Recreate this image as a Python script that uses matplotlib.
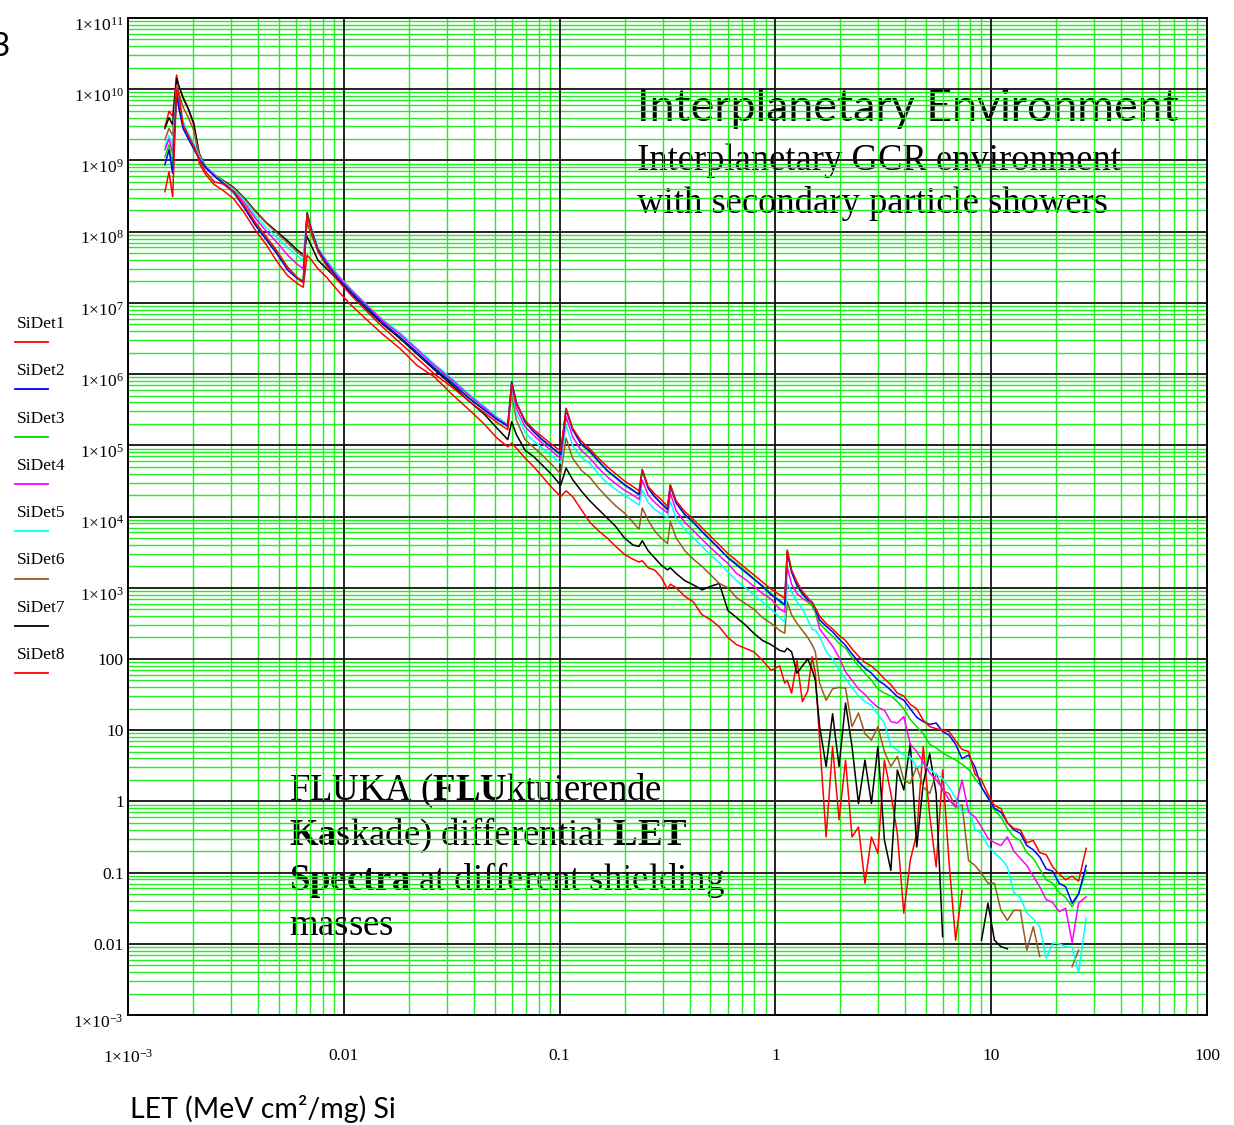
import numpy as np
import matplotlib
matplotlib.use("Agg")
import matplotlib.pyplot as plt
from matplotlib.lines import Line2D
from matplotlib.ticker import FixedLocator, LogLocator, NullFormatter
from matplotlib.transforms import ScaledTranslation

plt.rcParams['font.family'] = ['Liberation Serif', 'DejaVu Serif']
plt.rcParams['mathtext.fontset'] = 'custom'
plt.rcParams['mathtext.rm'] = 'Liberation Serif'
plt.rcParams['mathtext.bf'] = 'Liberation Serif:bold'
plt.rcParams['mathtext.it'] = 'Liberation Serif:italic'

nan = np.nan

# LET bins, log10(MeV cm2/mg)
log_let = [-2.829, -2.810, -2.793, -2.775, -2.765, -2.745, -2.720, -2.695, -2.670, -2.640, -2.600,
           -2.560, -2.510, -2.460, -2.410, -2.360, -2.310, -2.260, -2.215, -2.188, -2.170,
           -2.150, -2.120, -2.080, -2.030, -1.970, -1.900, -1.820, -1.740, -1.660, -1.580, -1.500,
           -1.420, -1.350, -1.290, -1.240, -1.222,
           -1.200, -1.160, -1.120, -1.080, -1.040, -0.995, -0.970,
           -0.940, -0.900, -0.860, -0.820, -0.780, -0.740, -0.700, -0.660, -0.632, -0.617,
           -0.590, -0.560, -0.530, -0.500, -0.487,
           -0.460, -0.420, -0.380, -0.340, -0.300, -0.260, -0.220, -0.180, -0.140, -0.100, -0.060,
           -0.020, 0.020, 0.043, 0.055,
           0.075, 0.100, 0.125, 0.150, 0.170, 0.185,
           0.205, 0.235, 0.265, 0.295, 0.325, 0.355, 0.385, 0.415, 0.445, 0.475, 0.505, 0.535,
           0.565, 0.595, 0.625, 0.655, 0.685, 0.715, 0.745, 0.775, 0.805, 0.835, 0.865, 0.895,
           0.925, 0.955, 0.985, 1.015, 1.045, 1.075, 1.105, 1.135, 1.165, 1.195, 1.225, 1.255,
           1.285, 1.315, 1.345, 1.375, 1.405, 1.440]

# log10 of the differential flux for each detector
sidet1 = [8.56, 8.84, 8.49, 10.00, 9.95, 9.50, 9.35, 9.20, 9.00, 8.84, 8.70,
          8.67, 8.56, 8.36, 8.13, 7.93, 7.73, 7.50, 7.35, 7.28, 8.25,
          8.00, 7.72, 7.52, 7.32, 7.12, 6.90, 6.66, 6.44, 6.22, 6.00, 5.82, 5.62, 5.46, 5.32, 5.22, 5.86,
          5.58, 5.35, 5.22, 5.12, 5.02, 4.92, 5.52,
          5.24, 5.06, 4.95, 4.82, 4.70, 4.60, 4.50, 4.42, 4.36, 4.66,
          4.42, 4.32, 4.24, 4.14, 4.44,
          4.22, 4.07, 3.96, 3.84, 3.72, 3.60, 3.48, 3.38, 3.28, 3.18, 3.08, 2.98, 2.90, 2.85, 3.53,
          3.25, 3.08, 2.95, 2.86, 2.78, 2.72,
          2.60, 2.50, 2.42, 2.33, 2.26, 2.14, 2.04, 1.95, 1.90, 1.82, 1.72, 1.64, 1.52, 1.48,
          1.36, 1.30, 1.14, 1.05, 1.02, 1.00, 0.98, 0.85, 0.73, 0.70, 0.38, 0.30, 0.10, -0.06,
          -0.10, -0.30, -0.38, -0.40, -0.58, -0.55, -0.72, -0.75, -0.92, -1.02, -1.10, -1.05,
          -1.12, -0.66]
sidet2 = [8.94, 9.15, 8.82, 9.95, 9.75, 9.45, 9.30, 9.16, 9.02, 8.90, 8.78,
          8.68, 8.55, 8.33, 8.09, 7.89, 7.69, 7.46, 7.34, 7.30, 8.26,
          8.02, 7.74, 7.55, 7.35, 7.16, 6.95, 6.72, 6.52, 6.30, 6.08, 5.88, 5.66, 5.50, 5.36, 5.27, 5.89,
          5.60, 5.33, 5.19, 5.08, 4.98, 4.87, 5.50,
          5.22, 5.02, 4.92, 4.78, 4.65, 4.55, 4.45, 4.37, 4.31, 4.65,
          4.40, 4.28, 4.19, 4.10, 4.43,
          4.19, 4.03, 3.92, 3.79, 3.67, 3.55, 3.42, 3.32, 3.22, 3.12, 3.02, 2.90, 2.82, 2.76, 3.50,
          3.22, 3.04, 2.92, 2.83, 2.80, 2.70,
          2.55, 2.46, 2.38, 2.28, 2.19, 2.07, 1.96, 1.87, 1.80, 1.70, 1.64, 1.56, 1.47, 1.42,
          1.30, 1.18, 1.12, 1.08, 1.10, 0.98, 0.93, 0.80, 0.60, 0.65, 0.48, 0.20, 0.05, -0.10,
          -0.15, -0.30, -0.40, -0.45, -0.62, -0.68, -0.78, -0.95, -0.98, -1.15, -1.20, -1.43,
          -1.30, -0.90]
sidet3 = [9.05, 9.22, 8.95, 9.97, 9.78, 9.48, 9.32, 9.18, 9.03, 8.90, 8.78,
          8.68, 8.55, 8.34, 8.11, 7.91, 7.71, 7.50, 7.36, 7.30, 8.27,
          8.03, 7.75, 7.55, 7.36, 7.16, 6.95, 6.72, 6.52, 6.30, 6.09, 5.89, 5.67, 5.50, 5.36, 5.27, 5.88,
          5.59, 5.33, 5.19, 5.07, 4.97, 4.86, 5.51,
          5.23, 5.01, 4.90, 4.77, 4.64, 4.54, 4.44, 4.36, 4.30, 4.66,
          4.41, 4.28, 4.18, 4.09, 4.45,
          4.20, 4.02, 3.91, 3.78, 3.66, 3.54, 3.43, 3.34, 3.24, 3.13, 3.03, 2.92, 2.80, 2.75, 3.52,
          3.22, 3.02, 2.90, 2.82, 2.74, 2.66,
          2.50, 2.40, 2.32, 2.22, 2.15, 2.02, 1.90, 1.80, 1.70, 1.58, 1.52, 1.48, 1.40, 1.30,
          1.15, 1.05, 0.95, 0.80, 0.75, 0.68, 0.63, 0.58, 0.52, 0.45, 0.32, 0.20, 0.05, -0.12,
          -0.22, -0.38, -0.50, -0.55, -0.72, -0.80, -0.95, -1.10, -1.15, -1.28, -1.35, -1.48,
          -1.30, -0.97]
sidet4 = [9.15, 9.30, 9.10, 9.98, 9.80, 9.50, 9.33, 9.20, 9.04, 8.91, 8.79,
          8.69, 8.57, 8.40, 8.19, 8.01, 7.85, 7.67, 7.54, 7.48, 8.24,
          8.02, 7.76, 7.58, 7.38, 7.19, 6.98, 6.75, 6.56, 6.34, 6.12, 5.92, 5.70, 5.53, 5.38, 5.28, 5.84,
          5.52, 5.26, 5.14, 5.03, 4.93, 4.81, 5.40,
          5.12, 4.93, 4.82, 4.68, 4.56, 4.46, 4.37, 4.30, 4.24, 4.51,
          4.30, 4.20, 4.12, 4.05, 4.33,
          4.08, 3.92, 3.80, 3.68, 3.56, 3.45, 3.34, 3.20, 3.12, 3.02, 2.92, 2.84, 2.70, 2.66, 3.29,
          3.05, 2.92, 2.85, 2.80, 2.75, 2.66,
          2.42, 2.30, 2.18, 2.02, 1.82, 1.70, 1.58, 1.50, 1.40, 1.32, 1.28, 1.12, 1.10, 1.19,
          0.80, 0.70, 0.55, 0.40, 0.30, 0.18, 0.02, -0.08, 0.30, -0.15, -0.22, -0.36, -0.52, -0.58,
          -0.62, -0.50, -0.70, -0.80, -0.90, -1.05, -1.20, -1.38, -1.42, -1.55, -1.50, -1.98,
          -1.43, -1.34]
sidet5 = [9.19, 9.35, 9.20, 10.00, 9.85, 9.55, 9.38, 9.24, 9.06, 8.92, 8.80,
          8.70, 8.59, 8.43, 8.23, 8.06, 7.92, 7.78, 7.66, 7.60, 8.27,
          8.05, 7.78, 7.60, 7.40, 7.20, 6.99, 6.76, 6.58, 6.36, 6.14, 5.94, 5.72, 5.55, 5.40, 5.29, 5.80,
          5.45, 5.18, 5.06, 4.96, 4.86, 4.75, 5.28,
          5.00, 4.83, 4.75, 4.60, 4.47, 4.38, 4.30, 4.22, 4.16, 4.37,
          4.20, 4.10, 4.04, 3.98, 4.21,
          3.98, 3.82, 3.70, 3.58, 3.46, 3.35, 3.22, 3.10, 3.00, 2.90, 2.80, 2.70, 2.58, 2.52, 3.06,
          2.95, 2.80, 2.70, 2.55, 2.42, 2.40,
          2.32, 2.10, 2.00, 1.85, 1.72, 1.60, 1.48, 1.40, 1.35, 1.22, 1.10, 0.78, 0.72, 0.65,
          0.62, 0.48, 0.52, 0.45, 0.38, 0.32, 0.20, 0.05, -0.15, -0.10, -0.40, -0.45, -0.62, -0.73,
          -0.80, -0.92, -1.28, -1.35, -1.57, -1.65, -1.76, -2.20, -1.99, -2.00, -2.04, -2.05,
          -2.40, -1.64]
sidet6 = [9.29, 9.45, 9.35, 10.05, 9.95, 9.75, 9.60, 9.42, 9.08, 8.92, 8.80,
          8.71, 8.61, 8.46, 8.28, 8.12, 7.98, 7.84, 7.71, 7.65, 8.12,
          7.95, 7.74, 7.58, 7.40, 7.20, 6.99, 6.76, 6.57, 6.35, 6.13, 5.93, 5.71, 5.54, 5.38, 5.26, 5.73,
          5.35, 5.08, 4.97, 4.86, 4.74, 4.60, 5.10,
          4.82, 4.65, 4.55, 4.40, 4.27, 4.15, 4.05, 3.92, 3.82, 4.12,
          3.95, 3.80, 3.70, 3.62, 3.93,
          3.70, 3.52, 3.40, 3.30, 3.18, 3.06, 3.00, 2.86, 2.78, 2.70, 2.58, 2.50, 2.40, 2.36, 2.80,
          2.62, 2.50, 2.40, 2.30, 2.20, 2.10,
          1.66, 1.42, 1.58, 1.60, 1.59, 1.05, 1.24, 0.95, 0.86, 1.05, 0.70, 0.49, 0.63, 0.30,
          0.25, 0.49, 0.20, 0.11, 0.39, 0.15, 0.11, -0.08, -0.05, -0.83, -0.90, -1.01, -1.15, -1.15,
          -1.53, -1.67, -1.53, -1.53, -2.09, -1.76, -2.18, nan, nan, nan, nan, -2.32,
          -2.09, nan]
sidet7 = [9.45, 9.60, 9.50, 10.15, 10.05, 9.88, 9.72, 9.52, 9.10, 8.90, 8.80,
          8.72, 8.62, 8.47, 8.29, 8.13, 8.00, 7.87, 7.74, 7.68, 7.93,
          7.80, 7.60, 7.48, 7.33, 7.14, 6.93, 6.70, 6.50, 6.28, 6.06, 5.85, 5.62, 5.44, 5.24, 5.08, 5.33,
          5.15, 4.93, 4.84, 4.72, 4.60, 4.44, 4.68,
          4.52, 4.36, 4.22, 4.10, 3.98, 3.86, 3.70, 3.60, 3.58, 3.66,
          3.52, 3.42, 3.32, 3.25, 3.28,
          3.20, 3.10, 3.04, 2.97, 3.02, 3.06, 2.68, 2.58, 2.48, 2.36, 2.26, 2.20, 2.12, 2.10, 2.15,
          2.10, 1.80, 1.90, 2.00, 1.85, 1.70,
          1.05, 0.49, 1.23, 0.49, 1.38, 0.77, -0.03, 0.58, -0.03, 0.77, -0.54, -0.97, 0.44, 0.16,
          0.81, -0.64, 0.25, 0.67, 0.11, -1.90, nan, nan, nan, nan, nan, -1.95, -1.43, -1.95,
          -2.04, -2.07, nan, nan, nan, nan, nan, nan, nan, nan, nan, nan,
          nan, nan]
sidet8 = [9.47, 9.69, 9.62, 10.20, 10.05, 9.89, 9.72, 9.50, 8.96, 8.80, 8.66,
          8.58, 8.46, 8.26, 8.02, 7.82, 7.58, 7.38, 7.27, 7.22, 7.67,
          7.60, 7.48, 7.36, 7.18, 6.98, 6.78, 6.56, 6.36, 6.12, 5.96, 5.72, 5.50, 5.30, 5.10, 4.98, 5.03,
          4.96, 4.82, 4.70, 4.56, 4.42, 4.28, 4.36,
          4.28, 4.10, 3.92, 3.80, 3.70, 3.58, 3.47, 3.40, 3.36, 3.38,
          3.28, 3.25, 3.15, 2.98, 3.05,
          3.00, 2.88, 2.80, 2.62, 2.55, 2.45, 2.30, 2.20, 2.15, 2.10, 1.98, 1.84, 1.90, 1.66, 1.70,
          1.52, 1.98, 1.40, 1.55, 2.03, 1.80,
          0.86, -0.50, 0.77, -0.26, 0.58, -0.50, -0.36, -1.15, -0.50, -0.73, 0.58, 0.11, -0.45, -1.57,
          -0.83, -0.45, 0.77, -0.20, -0.92, 0.44, -0.87, -1.95, -1.25, nan, nan, nan, nan, nan,
          nan, nan, nan, nan, nan, nan, nan, nan, nan, nan, nan, nan,
          nan, nan]

names = ['SiDet1', 'SiDet2', 'SiDet3', 'SiDet4', 'SiDet5', 'SiDet6', 'SiDet7', 'SiDet8']
colors = ['#ff0000', '#0000ff', '#00dd00', '#ff00ff', '#00ffff', '#9a5a1e', '#000000', '#ff0000']
series = [sidet1, sidet2, sidet3, sidet4, sidet5, sidet6, sidet7, sidet8]

for s in series:
    assert len(s) == len(log_let), len(s)

W, H = 1234, 1125
fig = plt.figure(figsize=(W / 100, H / 100), dpi=100)
ax = fig.add_axes([128 / W, 110 / H, 1079 / W, 997 / H])

x = 10 ** np.array(log_let)
# draw SiDet8 first so SiDet1 ends on top
for s, c in reversed(list(zip(series, colors))):
    ax.plot(x, 10 ** np.array(s, dtype=float), color=c, lw=1.1, zorder=3)

ax.set_xscale('log')
ax.set_yscale('log')
ax.set_xlim(1e-3, 100)
ax.set_ylim(1e-3, 1e11)

x_major = 10.0 ** np.arange(-3, 3)
y_major = 10.0 ** np.arange(-3, 12)
x_labels = ['1×10$^{-3}$', '0.01', '0.1', '1', '10', '100']
y_labels = []
for e in range(-3, 12):
    if -3 < e < 3:
        y_labels.append({-2: '0.01', -1: '0.1', 0: '1', 1: '10', 2: '100'}[e])
    else:
        y_labels.append('1×10$^{%d}$' % e)

ax.xaxis.set_major_locator(FixedLocator(x_major))
ax.yaxis.set_major_locator(FixedLocator(y_major))
ax.xaxis.set_minor_locator(LogLocator(base=10, subs=np.arange(2, 10), numticks=200))
ax.yaxis.set_minor_locator(LogLocator(base=10, subs=np.arange(2, 10), numticks=200))
ax.xaxis.set_minor_formatter(NullFormatter())
ax.yaxis.set_minor_formatter(NullFormatter())
ax.set_xticklabels(x_labels, fontsize=12.5)
ax.set_yticklabels(y_labels, fontsize=12.5)
ax.tick_params(which='both', length=0)
ax.tick_params(axis='x', pad=24)
ax.tick_params(axis='y', pad=3)
shift = ScaledTranslation(0, -4 / 72, fig.dpi_scale_trans)
for lab in ax.get_yticklabels():
    if '$' in lab.get_text():
        lab.set_transform(lab.get_transform() + shift)

# green minor grid from the axis, black decade lines drawn above it
ax.set_axisbelow(False)
ax.grid(which='minor', color='#22ee22', lw=1.0)
ax.grid(which='major', visible=False)
for v in x_major[1:-1]:
    ax.axvline(v, color='#111111', lw=1.3, zorder=2.7)
for v in y_major[1:-1]:
    ax.axhline(v, color='#111111', lw=1.3, zorder=2.7)
for sp in ax.spines.values():
    sp.set_linewidth(1.4)
    sp.set_zorder(4)

# text blocks sit under the grid like the original
def under_text(px, py, s, **kw):
    ax.text(px / W, 1 - py / H, s, transform=fig.transFigure, zorder=1,
            va='baseline', ha='left', **kw)

under_text(637, 121, 'Interplanetary Environment', family=['Lato', 'DejaVu Sans'], fontsize=32.2)
under_text(637, 170, 'Interplanetary GCR environment', fontsize=26.4)
under_text(637, 213, 'with secondary particle showers', fontsize=26.4)

fluka_lines = [r'$\mathrm{FLUKA\ (}\mathbf{FLU}\mathrm{ktuierende}$',
               r'$\mathbf{Ka}\mathrm{skade)\ differential\ }\mathbf{LET}$',
               r'$\mathbf{Spectra}\mathrm{\ at\ different\ shielding}$',
               r'$\mathrm{masses}$']
for i, t in enumerate(fluka_lines):
    under_text(289, 800 + 45 * i, t, fontsize=26.5)

fig.text(130 / W, 1 - 1118 / H, 'LET (MeV cm²/mg) Si', family=['Lato', 'DejaVu Sans'],
         fontsize=20.5, va='baseline', ha='left')
fig.text(-9 / W, 1 - 56 / H, '3', family=['Lato', 'DejaVu Sans'], fontsize=24,
         va='baseline', ha='left')

# legend on the left
for i, (n, c) in enumerate(zip(names, colors)):
    yb = 328 + 47.3 * i
    fig.text(17 / W, 1 - yb / H, n, fontsize=12.5, va='baseline', ha='left')
    fig.add_artist(Line2D([15 / W, 48 / W], [1 - (yb + 14) / H] * 2, color=c, lw=1.3,
                          transform=fig.transFigure))

fig.savefig('out.png', dpi=100)
